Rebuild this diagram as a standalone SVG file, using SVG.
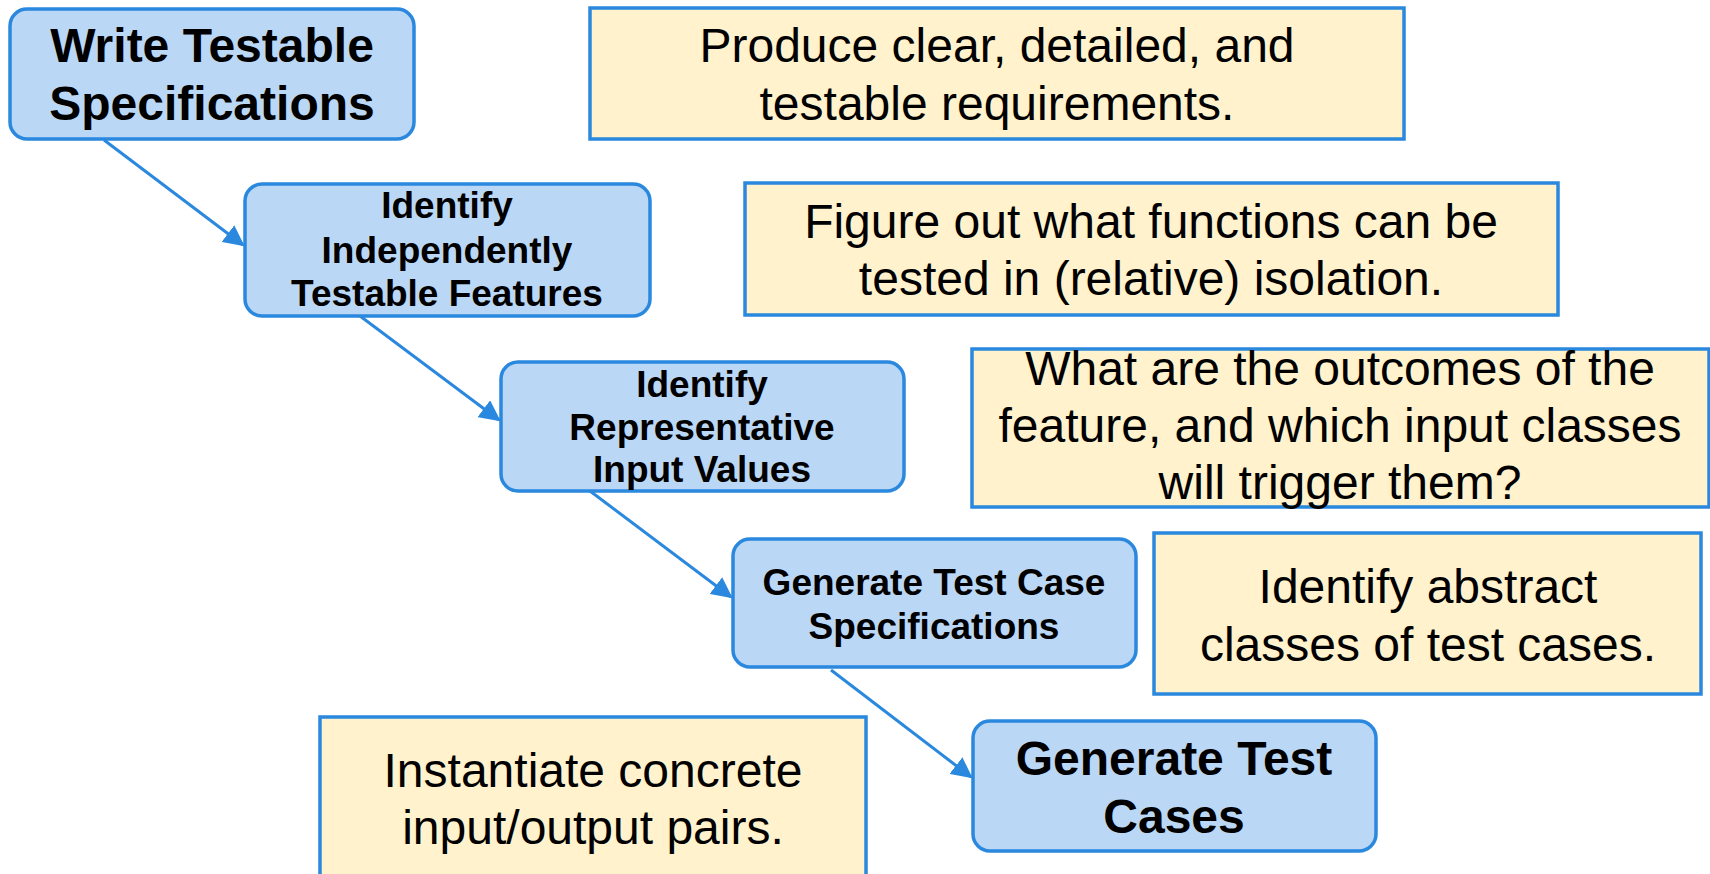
<svg xmlns="http://www.w3.org/2000/svg" width="1710" height="874" viewBox="0 0 1710 874">
<style>
.step{fill:#bad7f6;stroke:#2a88de;stroke-width:3.5}
.note{fill:#fff2cc;stroke:#2a88de;stroke-width:3.5}
.st{font-family:"Liberation Sans",Arial,sans-serif;font-weight:bold;fill:#000;text-anchor:middle}
.nt{font-family:"Liberation Sans",Arial,sans-serif;fill:#000;text-anchor:middle;font-size:48px}
.conn{stroke:#2a88de;stroke-width:3;fill:none}
</style>
<defs>
<marker id="arr" viewBox="0 0 10 10" refX="9" refY="5" markerWidth="7" markerHeight="7" markerUnits="strokeWidth" orient="auto">
<path d="M0,0 L10,5 L0,10 z" fill="#2a88de"/>
</marker>
</defs>
<rect width="1710" height="874" fill="#fff"/>
<g id="connectors">
<line class="conn" x1="104" y1="140" x2="243" y2="245" marker-end="url(#arr)"/>
<line class="conn" x1="360" y1="316" x2="499" y2="420" marker-end="url(#arr)"/>
<line class="conn" x1="590" y1="491" x2="731" y2="597" marker-end="url(#arr)"/>
<line class="conn" x1="831" y1="670" x2="971" y2="777" marker-end="url(#arr)"/>
</g>
<g id="n1">
<rect class="step" x="10" y="9" width="404" height="130" rx="17"/>
<text class="st" font-size="48" x="212" y="62">Write Testable</text>
<text class="st" font-size="48" x="212" y="120">Specifications</text>
</g>
<g id="n2">
<rect class="step" x="245" y="184" width="405" height="132" rx="17"/>
<text class="st" font-size="37" x="447" y="218">Identify</text>
<text class="st" font-size="37" x="447" y="263">Independently</text>
<text class="st" font-size="37" x="447" y="306">Testable Features</text>
</g>
<g id="n3">
<rect class="step" x="501" y="362" width="403" height="129" rx="17"/>
<text class="st" font-size="37" x="702" y="397">Identify</text>
<text class="st" font-size="37" x="702" y="440">Representative</text>
<text class="st" font-size="37" x="702" y="482">Input Values</text>
</g>
<g id="n4">
<rect class="step" x="733" y="539" width="403" height="128" rx="17"/>
<text class="st" font-size="37" x="934" y="595">Generate Test Case</text>
<text class="st" font-size="37" x="934" y="639">Specifications</text>
</g>
<g id="n5">
<rect class="step" x="973" y="721" width="403" height="130" rx="17"/>
<text class="st" font-size="48" x="1174" y="775">Generate Test</text>
<text class="st" font-size="48" x="1174" y="833">Cases</text>
</g>
<g id="note1">
<rect class="note" x="590" y="8" width="814" height="131"/>
<text class="nt" x="997" y="62">Produce clear, detailed, and</text>
<text class="nt" x="997" y="120">testable requirements.</text>
</g>
<g id="note2">
<rect class="note" x="745" y="183" width="813" height="132"/>
<text class="nt" x="1151" y="238">Figure out what functions can be</text>
<text class="nt" x="1151" y="295">tested in (relative) isolation.</text>
</g>
<g id="note3">
<rect class="note" x="972" y="349" width="737" height="158"/>
<text class="nt" x="1340" y="385">What are the outcomes of the</text>
<text class="nt" x="1340" y="442">feature, and which input classes</text>
<text class="nt" x="1340" y="499">will trigger them?</text>
</g>
<g id="note4">
<rect class="note" x="1154" y="533" width="547" height="161"/>
<text class="nt" x="1428" y="603">Identify abstract</text>
<text class="nt" x="1428" y="661">classes of test cases.</text>
</g>
<g id="note5">
<rect class="note" x="320" y="717" width="546" height="170"/>
<text class="nt" x="593" y="787">Instantiate concrete</text>
<text class="nt" x="593" y="844">input/output pairs.</text>
</g>
</svg>
